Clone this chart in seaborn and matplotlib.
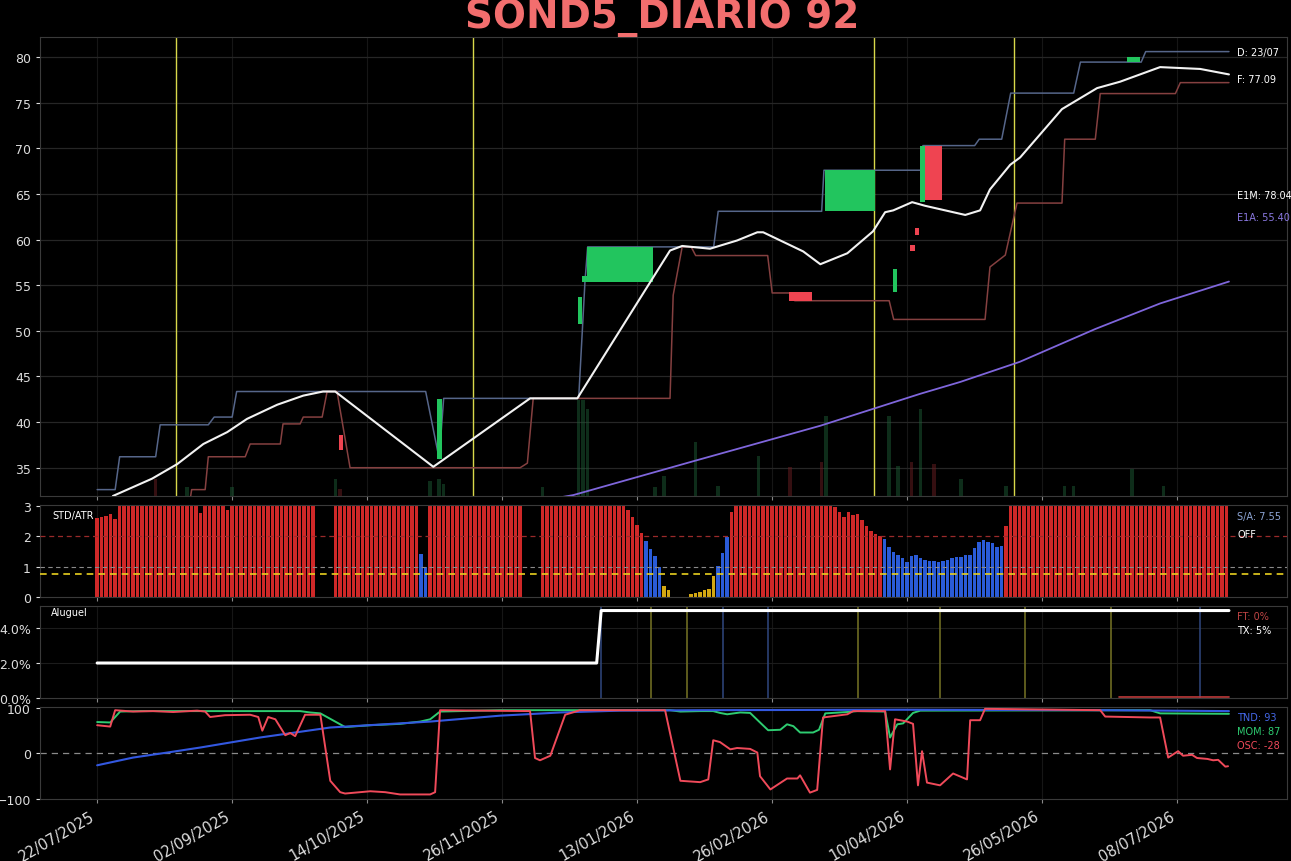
import numpy as np
import matplotlib
matplotlib.use("Agg")
import matplotlib.pyplot as plt
import seaborn as sns

# ---------------- data ----------------
tick_pos = [0, 30, 60, 90, 120, 150, 180, 210, 240]
tick_labels = ["22/07/2025", "02/09/2025", "14/10/2025", "26/11/2025", "13/01/2026",
               "26/02/2026", "10/04/2026", "26/05/2026", "08/07/2026"]

# upper channel (D)
upper_x = [0, 4, 5, 13, 14, 24.7, 26, 30, 31, 73, 76, 77, 107, 108.4, 109, 137, 138,
           161, 161.5, 183, 183.5, 195, 196, 201, 203, 217, 218.5, 232, 233, 251.5]
upper_y = [32.6, 32.6, 36.2, 36.2, 39.7, 39.7, 40.55, 40.55, 43.35, 43.35, 36.0, 42.6,
           42.6, 55.4, 59.2, 59.2, 63.1, 63.1, 67.6, 67.6, 70.3, 70.3, 71.0, 71.0, 76.05,
           76.05, 79.45, 79.45, 80.6, 80.6]

# lower channel (F)
lower_x = [0, 20.5, 21, 24, 24.7, 32.9, 34, 40.7, 41.3, 45.1, 45.8, 50, 51.1, 53.3, 56.2,
           94, 95.6, 96.9, 127.3, 128, 130, 132, 133, 149, 150, 154, 155, 176, 177, 197.3,
           198.4, 201.8, 204.4, 214.4, 215, 221.8, 222.9, 239.6, 240.7, 251.5]
lower_y = [31.0, 31.0, 32.6, 32.6, 36.2, 36.2, 37.6, 37.6, 39.8, 39.8, 40.55, 40.55,
           43.35, 43.35, 35.0, 35.0, 35.5, 42.6, 42.6, 53.9, 59.2, 59.2, 58.25, 58.25,
           54.15, 54.15, 53.3, 53.3, 51.25, 51.25, 57.0, 58.3, 64.0, 64.0, 71.0, 71.0,
           76.0, 76.0, 77.2, 77.2]

# fast average (white)
white_x = [3.5, 12.2, 17.8, 23.6, 28.9, 33.3, 40, 45.8, 50.2, 52.9, 74.7, 96.2, 106.7,
           127.3, 130, 136.2, 142.2, 146.7, 148, 156.9, 160.7, 166.7, 172.4, 175.1, 176.9,
           181.1, 184, 192.9, 196.2, 198.4, 202.9, 205.1, 214.4, 222.2, 227.3, 236.2,
           245.1, 251.5]
white_y = [31.9, 33.8, 35.4, 37.6, 38.9, 40.35, 41.9, 42.9, 43.35, 43.35, 35.1, 42.6,
           42.6, 58.8, 59.3, 59.0, 59.9, 60.8, 60.8, 58.7, 57.3, 58.5, 60.9, 63.0, 63.2,
           64.1, 63.7, 62.7, 63.2, 65.5, 68.2, 69.0, 74.3, 76.6, 77.3, 78.9, 78.7, 78.1]

# E1A (purple)
e1a_x = [100, 105.8, 132.4, 160.7, 182.9, 191.8, 205, 221.8, 236.2, 251.5]
e1a_y = [31.5, 32.0, 35.7, 39.6, 43.1, 44.4, 46.6, 50.2, 53.0, 55.4]

# boxes
box_x0 = [53.8, 75.6, 106.9, 107.8, 108.9, 153.8, 161.8, 176.9, 180.7, 181.8, 182.9, 184.0, 228.9]
box_x1 = [54.7, 76.7, 107.8, 108.9, 123.6, 158.9, 172.9, 177.8, 181.8, 182.7, 184.0, 187.8, 231.8]
box_lo = [36.9, 36.0, 50.7, 55.3, 55.4, 53.3, 63.1, 54.3, 58.8, 60.5, 64.1, 64.3, 79.5]
box_hi = [38.6, 42.5, 53.7, 56.0, 59.2, 54.3, 67.6, 56.8, 59.4, 61.3, 70.3, 70.3, 80.0]
box_up = [False, True, True, True, True, False, True, True, False, False, True, False, True]

events_main = [17.6, 83.6, 172.7, 203.8]

# faint volume (percent of panel height)
vol_idx = [13, 20, 30, 53, 54, 74, 76, 77, 99, 107, 108, 109, 124, 126, 133, 138, 147,
           154, 161, 162, 176, 178, 181, 183, 186, 192, 202, 215, 217, 230, 237]
vol_val = [3.7, 2.0, 2.0, 3.7, 1.5, 3.3, 3.7, 2.6, 2.0, 21, 21, 19, 2.0, 4.4, 11.8, 2.2,
           8.7, 6.3, 7.4, 17.4, 17.4, 6.5, 7.4, 19, 7.0, 3.7, 2.2, 2.2, 2.2, 5.9, 2.2]
vol_up = [False, True, True, True, False, True, True, True, True, True, True, True, True,
          True, True, True, True, False, False, True, True, True, False, True, False,
          True, True, True, True, True, True]

# STD/ATR bars (clipped at 3)
std_atr = ([2.6, 2.64, 2.68, 2.72, 2.58]
           + [3.0] * 18 + [2.77] + [3.0] * 5 + [2.87] + [3.0] * 19
           + [0.0] * 4
           + [3.0] * 19 + [1.4, 1.0]
           + [3.0] * 21
           + [0.0] * 4
           + [3.0] * 19 + [2.87, 2.63, 2.37, 2.1, 1.86, 1.58, 1.35, 1.0, 0.36, 0.24]
           + [0.0] * 4
           + [0.1, 0.12, 0.15, 0.22, 0.25, 0.7, 1.03, 1.45, 1.98, 2.8]
           + [3.0] * 22
           + [2.95, 2.8, 2.63, 2.8, 2.7, 2.72, 2.55, 2.35, 2.18, 2.07, 2.01]
           + [1.91, 1.64, 1.49, 1.38, 1.27, 1.16, 1.35, 1.37, 1.27, 1.22, 1.2, 1.2, 1.15,
              1.2, 1.23, 1.3, 1.33, 1.31, 1.37, 1.38, 1.6, 1.8, 1.87, 1.8, 1.78, 1.65, 1.67]
           + [2.33] + [3.0] * 49)

# Aluguel (rent %)
rent_x = [0, 111, 112, 251.5]
rent_y = [2.0, 2.0, 5.0, 5.0]
ft_x = [227, 251.5]
ft_y = [0.05, 0.05]
rent_ev_olive = [123.1, 131.1, 169.1, 187.3, 206.2, 225.3]
rent_ev_blue = [112, 139.1, 149.1, 245.1]

# oscillators
tnd_x = [0, 8, 15.6, 22.9, 36.2, 51.8, 74, 89.6, 102.9, 116.2, 134, 178.4, 222.9, 251.5]
tnd_y = [-26, -9, 2, 13, 35, 57, 70, 83, 90, 94, 95, 96, 95, 93]

mom_x = [0, 2.9, 4, 5.1, 9.6, 45.1, 47.3, 49.6, 52.9, 55.1, 60.7, 67.3, 71.8, 74, 76.2,
         89.6, 127.3, 129.6, 134, 136.9, 138.4, 140, 142.9, 145.1, 147.3, 149.1, 151.8,
         153.3, 154.7, 156.2, 159.1, 160.4, 161.8, 166.7, 168.9, 175.1, 176.2, 177.8,
         179.1, 181.3, 182.9, 234, 236.2, 251.5]
mom_y = [69, 68, 80, 92, 93, 93, 90, 88, 70, 58, 62, 65, 70, 75, 92, 95, 95, 92, 93, 93,
         89, 86, 90, 89, 68, 51, 52, 64, 60, 46, 46, 52, 88, 91, 93, 92, 35, 64, 66, 89,
         94, 95, 88, 87]

osc_x = [0, 2.9, 4, 8, 12.4, 16.9, 22.2, 24, 25.1, 28.4, 34, 35.8, 36.7, 38, 39.6, 41.8,
         42.9, 44, 46.2, 49.6, 51.8, 54, 55.1, 60.7, 64, 67.3, 74, 75.1, 76.2, 96.2, 97.3,
         98.4, 100.7, 104, 107.3, 126.2, 129.6, 134, 135.8, 136.9, 138.4, 140.7, 142.2,
         145.1, 146.7, 147.3, 149.6, 153.3, 155.6, 156.2, 158.4, 160, 161.3, 166.7, 168,
         175.1, 176.2, 177.3, 178.4, 180, 181.3, 182.4, 183.3, 184.4, 187.3, 190.2,
         193.3, 194, 196.2, 197.3, 222.9, 224, 234, 236.2, 238, 240.2, 241.3, 243.3,
         244.4, 246.7, 248, 249.1, 250.7, 251.3]
osc_y = [62, 59, 95, 92, 93, 91, 94, 92, 80, 84, 85, 80, 50, 80, 75, 40, 45, 38, 85, 85,
         -60, -85, -88, -83, -85, -90, -90, -85, 95, 93, -10, -15, -5, 85, 95, 95, -60,
         -63, -57, 29, 25, 9, 12, 10, 2, -50, -79, -55, -55, -48, -86, -80, 79, 86, 93,
         93, -35, 75, 73, 70, 65, -70, 5, -64, -70, -44, -57, 73, 73, 98, 95, 81, 79, 79,
         -9, 5, -5, -3, -10, -12, -15, -14, -29, -28]

# ---------------- style ----------------
sns.set_theme(style="dark", rc={
    "figure.facecolor": "black", "axes.facecolor": "black",
    "axes.edgecolor": "#3a3a3a", "axes.labelcolor": "#dddddd",
    "xtick.color": "#dddddd", "ytick.color": "#dddddd",
    "text.color": "#dddddd", "xtick.bottom": True, "ytick.left": True,
    "xtick.major.size": 3, "ytick.major.size": 3,
    "xtick.major.width": 0.8, "ytick.major.width": 0.8,
    "patch.edgecolor": "none",
})
plt.rcParams["font.family"] = ["DejaVu Sans"]

W, H = 1291, 862
fig = plt.figure(figsize=(W / 100, H / 100), dpi=100)
L, R = 40 / W, 1287 / W


def rect(top, bot):
    return [L, 1 - bot / H, R - L, (bot - top) / H]


ax1 = fig.add_axes(rect(38, 497))
ax2 = fig.add_axes(rect(506, 598), sharex=ax1)
ax3 = fig.add_axes(rect(607, 699), sharex=ax1)
ax4 = fig.add_axes(rect(708, 800), sharex=ax1)

for ax in (ax1, ax2, ax3, ax4):
    ax.set_facecolor("black")
    for s in ax.spines.values():
        s.set_color("#3a3a3a")
        s.set_linewidth(0.8)
    ax.tick_params(axis="both", colors="#dddddd", labelsize=9, length=3)
    ax.tick_params(axis="x", colors="#888888")
    ax.set_xticks(tick_pos)
    for x in tick_pos:
        ax.axvline(x, color="#161616", lw=0.8, zorder=0)

# ---- main panel ----
ax1.bar(vol_idx, np.array(vol_val) / 100.0, width=0.8, bottom=0,
        color=["#1d5a35" if u else "#6a1e22" for u in vol_up], alpha=0.5, linewidth=0,
        transform=ax1.get_xaxis_transform(), zorder=1)
for yv in range(35, 81, 5):
    ax1.axhline(yv, color="#262626", lw=0.9, zorder=0.5)
for ev in events_main:
    ax1.axvline(ev, color="#d8d84a", lw=1.0, zorder=2)
sns.lineplot(x=upper_x, y=upper_y, ax=ax1, color="#56668a", lw=1.1, sort=False, estimator=None, zorder=3)
sns.lineplot(x=lower_x, y=lower_y, ax=ax1, color="#854040", lw=1.1, sort=False, estimator=None, zorder=3)
sns.lineplot(x=e1a_x, y=e1a_y, ax=ax1, color="#7f66dc", lw=1.3, sort=False, estimator=None, zorder=3)
ax1.bar(box_x0, np.array(box_hi) - np.array(box_lo), width=np.array(box_x1) - np.array(box_x0),
        bottom=box_lo, align="edge", color=["#22c55e" if u else "#ef4451" for u in box_up],
        zorder=4, linewidth=0)
sns.lineplot(x=white_x, y=white_y, ax=ax1, color="#f2f2f2", lw=1.5, sort=False, estimator=None, zorder=5)
ax1.set_ylim(31.9, 82.2)
ax1.set_yticks(range(35, 81, 5))
ax1.tick_params(labelbottom=False)
tx = 0.96
ax1.text(tx, 0.967, "D: 23/07", transform=ax1.transAxes, fontsize=7, color="white", va="center")
ax1.text(tx, 0.908, "F: 77.09", transform=ax1.transAxes, fontsize=7, color="white", va="center")
ax1.text(tx, 0.656, "E1M: 78.04", transform=ax1.transAxes, fontsize=7, color="white", va="center")
ax1.text(tx, 0.608, "E1A: 55.40", transform=ax1.transAxes, fontsize=7, color="#8a78e0", va="center")

# ---- STD/ATR panel ----
vals = np.array(std_atr)
idx = np.arange(len(vals))
cols = ["#cf2828" if v > 2 else ("#2a5bd7" if v >= 0.75 else "#d4a812") for v in vals]
ax2.bar(idx, vals, width=0.78, color=cols, linewidth=0, zorder=2)
ax2.axhline(2, color="#9a2a2a", lw=0.9, ls=(0, (4, 3)), zorder=3)
ax2.axhline(1, color="#8a8a8a", lw=0.8, ls=(0, (4, 3)), zorder=3)
ax2.axhline(0.75, color="#e8d020", lw=1.2, ls=(0, (4, 3)), zorder=3)
ax2.set_ylim(0, 3.03)
ax2.set_yticks([0, 1, 2, 3])
ax2.tick_params(labelbottom=False)
ax2.text(0.0096, 0.89, "STD/ATR", transform=ax2.transAxes, fontsize=7, color="white", va="center")
ax2.text(tx, 0.88, "S/A: 7.55", transform=ax2.transAxes, fontsize=7, color="#8ea6d6", va="center")
ax2.text(tx, 0.685, "OFF", transform=ax2.transAxes, fontsize=7, color="white", va="center")

# ---- Aluguel panel ----
for yv in (2, 4):
    ax3.axhline(yv, color="#1c1c1c", lw=0.8, zorder=0.5)
for ev in rent_ev_olive:
    ax3.axvline(ev, color="#6e6c22", lw=1.2, zorder=1)
for ev in rent_ev_blue:
    ax3.axvline(ev, color="#2c4275", lw=1.2, zorder=1)
sns.lineplot(x=ft_x, y=ft_y, ax=ax3, color="#c03a3a", lw=1.2, sort=False, estimator=None, zorder=2)
sns.lineplot(x=rent_x, y=rent_y, ax=ax3, color="white", lw=2.2, sort=False, estimator=None, zorder=3)
ax3.set_ylim(0, 5.26)
ax3.set_yticks([0, 2, 4])
ax3.set_yticklabels(["0.0%", "2.0%", "4.0%"])
ax3.tick_params(labelbottom=False)
ax3.text(0.0088, 0.935, "Aluguel", transform=ax3.transAxes, fontsize=7, color="white", va="center")
ax3.text(tx, 0.89, "FT: 0%", transform=ax3.transAxes, fontsize=7, color="#c04545", va="center")
ax3.text(tx, 0.74, "TX: 5%", transform=ax3.transAxes, fontsize=7, color="white", va="center")

# ---- oscillator panel ----
ax4.axhline(0, color="#8a8a8a", lw=0.9, ls=(0, (5, 4)), zorder=1)
sns.lineplot(x=tnd_x, y=tnd_y, ax=ax4, color="#3358e0", lw=1.5, sort=False, estimator=None, zorder=3)
sns.lineplot(x=mom_x, y=mom_y, ax=ax4, color="#2ecc71", lw=1.4, sort=False, estimator=None, zorder=2)
sns.lineplot(x=osc_x, y=osc_y, ax=ax4, color="#f04a5a", lw=1.4, sort=False, estimator=None, zorder=4)
ax4.set_ylim(-100, 102)
ax4.set_yticks([-100, 0, 100])
ax4.set_yticklabels(["\u2212100", "0", "100"])
ax4.set_xticks(tick_pos)
ax4.set_xticklabels(tick_labels, rotation=30, ha="right", fontsize=10.5, color="#dddddd")
ax4.text(tx, 0.89, "TND: 93", transform=ax4.transAxes, fontsize=7, color="#4468e8", va="center")
ax4.text(tx, 0.74, "MOM: 87", transform=ax4.transAxes, fontsize=7, color="#2ecc71", va="center")
ax4.text(tx, 0.587, "OSC: -28", transform=ax4.transAxes, fontsize=7, color="#f04a5a", va="center")
for ax in (ax1, ax2, ax3, ax4):
    ax.set_xlabel("")
    ax.set_ylabel("")
ax1.set_xlim(-12.7, 264.4)

fig.text(0.513, 0.979, "SOND5_DIARIO 92", ha="center", va="center", fontsize=28,
         fontweight="bold", color="#f26e6e")

fig.savefig("out.png", dpi=100, facecolor="black")
